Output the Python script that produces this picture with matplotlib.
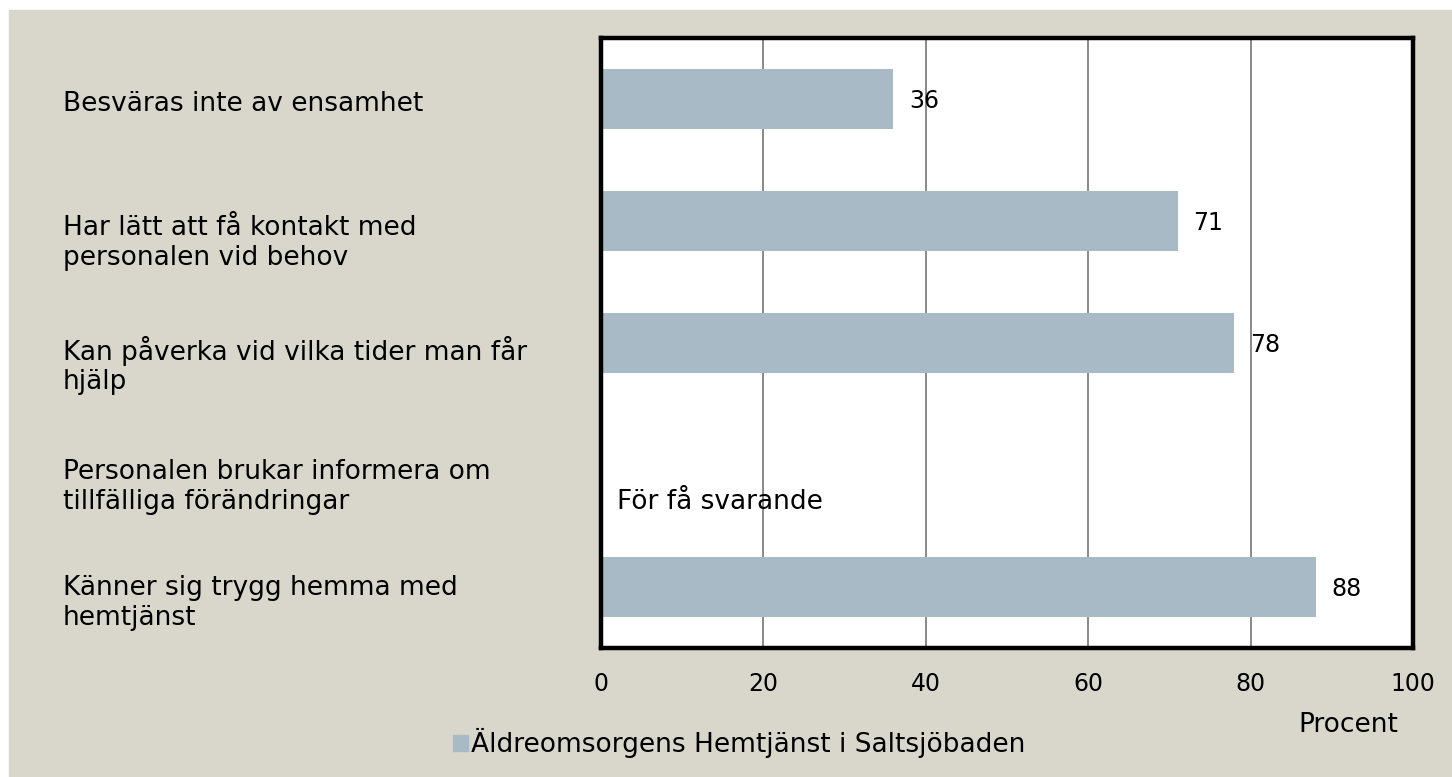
import matplotlib
matplotlib.use("Agg")
import matplotlib.pyplot as plt
from matplotlib.patches import Patch, Rectangle
from matplotlib.transforms import blended_transform_factory, offset_copy

categories = [
    "Besväras inte av ensamhet",
    "Har lätt att få kontakt med\npersonalen vid behov",
    "Kan påverka vid vilka tider man får\nhjälp",
    "Personalen brukar informera om\ntillfälliga förändringar",
    "Känner sig trygg hemma med\nhemtjänst",
]
values = [36, 71, 78, None, 88]
missing_text = "För få svarande"
series_name = "Äldreomsorgens Hemtjänst i Saltsjöbaden"
xticks = [0, 20, 40, 60, 80, 100]

bar_color = "#a7bac5"
bg_color = "#d9d7cb"
text_size = 19
num_size = 17

plt.rcParams["font.family"] = ["DejaVu Sans"]

fig = plt.figure(figsize=(14.52, 7.77), dpi=100, facecolor="white")
fig.patches.append(Rectangle((9 / 1452, 0), 1, 1 - 10 / 777,
                             transform=fig.transFigure, color=bg_color, zorder=-10))

ax = fig.add_axes([601 / 1452, 1 - 648 / 777, 812 / 1452, 610 / 777])
ax.set_facecolor("white")

ypos = list(range(len(categories)))
plot_vals = [v if v is not None else 0 for v in values]
bars = ax.barh(ypos, plot_vals, height=0.49, color=bar_color, zorder=2)

ax.set_xlim(0, 100)
ax.set_ylim(len(categories) - 0.5, -0.5)
ax.set_xticks(xticks)
ax.set_xticklabels([str(t) for t in xticks], fontsize=num_size)
ax.tick_params(axis="x", length=0, pad=17)
ax.set_yticks([])
ax.grid(axis="x", color="#808080", linewidth=1.3, zorder=1)
for s in ax.spines.values():
    s.set_linewidth(3.2)
    s.set_color("black")
    s.set_zorder(5)

# value labels
lab_off = offset_copy(ax.transData, fig=fig, x=16, y=-2, units="dots")
for y, v in zip(ypos, values):
    if v is None:
        ax.text(0, y + 0.29, missing_text, transform=lab_off, fontsize=text_size,
                va="center", ha="left", zorder=6)
    else:
        ax.text(v, y, str(v), transform=lab_off, fontsize=num_size,
                va="center", ha="left", zorder=6)

# category labels on the left
lab_tr = blended_transform_factory(fig.transFigure, ax.transData)
offsets = [0.04, 0.18, 0.185, 0.18, 0.13]
for y, lab, off in zip(ypos, categories, offsets):
    fig.text(63 / 1452, y + off, lab, transform=lab_tr, fontsize=text_size,
             va="center", ha="left", linespacing=1.17)

fig.text(1348 / 1452, 1 - 725 / 777, "Procent", fontsize=text_size, ha="center", va="center")

fig.legend(handles=[Patch(color=bar_color, label=series_name)],
           loc="center left", bbox_to_anchor=(453 / 1452, 1 - 743 / 777),
           frameon=False, fontsize=text_size, handlelength=0.55, handleheight=0.55,
           handletextpad=0.15, borderpad=0, borderaxespad=0)

fig.savefig("out.png", dpi=100, facecolor=fig.get_facecolor())
